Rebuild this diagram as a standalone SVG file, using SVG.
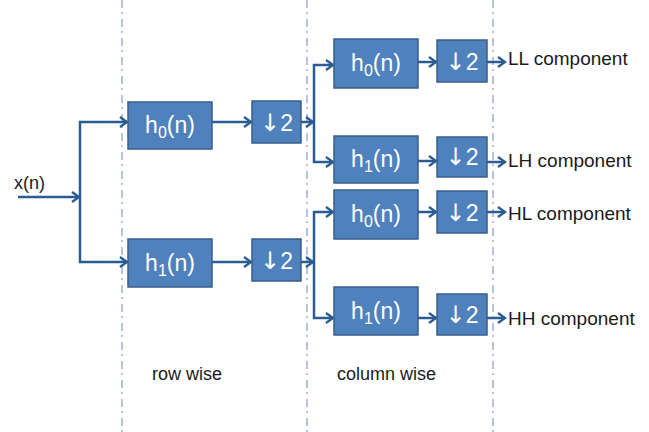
<svg xmlns="http://www.w3.org/2000/svg" width="649" height="432" viewBox="0 0 649 432">
<style>
.box{fill:#4F81BD;stroke:#385D8A;stroke-width:1.5}
.bt{font-family:"Liberation Sans",Arial,sans-serif;font-size:23px;fill:#FFFFFF;text-anchor:middle}
.sub{font-size:16px}
.arr{font-family:"DejaVu Sans",sans-serif;font-size:24px}
.lbl{font-family:"Liberation Sans",Arial,sans-serif;font-size:18px;fill:#1a1a1a}
.out{font-size:19px}
.con{fill:none;stroke:#2A5B92;stroke-width:2.5}
.sep{stroke:#9DB1CB;stroke-width:1.5;stroke-dasharray:8 4 2 5}
</style>
<defs>
<marker id="ah" markerWidth="10" markerHeight="12" refX="8" refY="6" orient="auto" markerUnits="userSpaceOnUse">
<path d="M1,1 L8,6 L1,11" fill="none" stroke="#2A5B92" stroke-width="2.3"/>
</marker>
</defs>
<rect width="649" height="432" fill="#FFFFFF"/>
<g id="separators">
<line class="sep" x1="122" y1="0" x2="122" y2="432"/>
<line class="sep" x1="307" y1="0" x2="307" y2="432"/>
<line class="sep" x1="493" y1="0" x2="493" y2="432"/>
</g>
<g id="connectors">
<line class="con" x1="18" y1="197" x2="79" y2="197" marker-end="url(#ah)"/>
<line class="con" x1="80" y1="121" x2="80" y2="263"/>
<line class="con" x1="79" y1="122" x2="127" y2="122" marker-end="url(#ah)"/>
<line class="con" x1="79" y1="262" x2="127" y2="262" marker-end="url(#ah)"/>
<line class="con" x1="212" y1="122" x2="251" y2="122" marker-end="url(#ah)"/>
<line class="con" x1="212" y1="262" x2="251" y2="262" marker-end="url(#ah)"/>
<line class="con" x1="301" y1="122" x2="313" y2="122" marker-end="url(#ah)"/>
<line class="con" x1="301" y1="262" x2="313" y2="262" marker-end="url(#ah)"/>
<line class="con" x1="314" y1="64" x2="314" y2="163"/>
<line class="con" x1="314" y1="211" x2="314" y2="319"/>
<line class="con" x1="313" y1="65" x2="333" y2="65" marker-end="url(#ah)"/>
<line class="con" x1="313" y1="162" x2="333" y2="162" marker-end="url(#ah)"/>
<line class="con" x1="313" y1="212" x2="333" y2="212" marker-end="url(#ah)"/>
<line class="con" x1="313" y1="318" x2="333" y2="318" marker-end="url(#ah)"/>
<line class="con" x1="418" y1="62" x2="436" y2="62" marker-end="url(#ah)"/>
<line class="con" x1="418" y1="161" x2="436" y2="161" marker-end="url(#ah)"/>
<line class="con" x1="418" y1="212" x2="436" y2="212" marker-end="url(#ah)"/>
<line class="con" x1="418" y1="318" x2="436" y2="318" marker-end="url(#ah)"/>
<line class="con" x1="487" y1="62" x2="505" y2="62" marker-end="url(#ah)"/>
<line class="con" x1="487" y1="162" x2="505" y2="162" marker-end="url(#ah)"/>
<line class="con" x1="487" y1="212" x2="505" y2="212" marker-end="url(#ah)"/>
<line class="con" x1="487" y1="318" x2="505" y2="318" marker-end="url(#ah)"/>
</g>
<g id="input-label"><text class="lbl" x="14" y="189">x(n)</text></g>
<g id="row-h0"><rect class="box" x="128" y="102" width="84" height="47"/><text class="bt" x="170" y="133">h<tspan class="sub" dy="5">0</tspan><tspan dy="-5">(n)</tspan></text></g>
<g id="row-d0"><rect class="box" x="252" y="101" width="49" height="42"/><text class="bt" x="276.5" y="131"><tspan class="arr">↓</tspan>2</text></g>
<g id="row-h1"><rect class="box" x="128" y="239" width="84" height="48"/><text class="bt" x="170" y="271">h<tspan class="sub" dy="5">1</tspan><tspan dy="-5">(n)</tspan></text></g>
<g id="row-d1"><rect class="box" x="252" y="239" width="49" height="42"/><text class="bt" x="276.5" y="269"><tspan class="arr">↓</tspan>2</text></g>
<g id="col-ll-h"><rect class="box" x="334" y="39" width="84" height="49"/><text class="bt" x="376" y="71">h<tspan class="sub" dy="5">0</tspan><tspan dy="-5">(n)</tspan></text></g>
<g id="col-ll-d"><rect class="box" x="437" y="40" width="50" height="42"/><text class="bt" x="462" y="70"><tspan class="arr">↓</tspan>2</text></g>
<g id="col-lh-h"><rect class="box" x="334" y="136" width="84" height="47"/><text class="bt" x="376" y="167">h<tspan class="sub" dy="5">1</tspan><tspan dy="-5">(n)</tspan></text></g>
<g id="col-lh-d"><rect class="box" x="437" y="137" width="50" height="40"/><text class="bt" x="462" y="165"><tspan class="arr">↓</tspan>2</text></g>
<g id="col-hl-h"><rect class="box" x="334" y="190" width="84" height="49"/><text class="bt" x="376" y="222">h<tspan class="sub" dy="5">0</tspan><tspan dy="-5">(n)</tspan></text></g>
<g id="col-hl-d"><rect class="box" x="437" y="191" width="50" height="42"/><text class="bt" x="462" y="221"><tspan class="arr">↓</tspan>2</text></g>
<g id="col-hh-h"><rect class="box" x="334" y="287" width="84" height="48"/><text class="bt" x="376" y="319">h<tspan class="sub" dy="5">1</tspan><tspan dy="-5">(n)</tspan></text></g>
<g id="col-hh-d"><rect class="box" x="437" y="294" width="50" height="41"/><text class="bt" x="462" y="323"><tspan class="arr">↓</tspan>2</text></g>
<g id="outputs">
<text class="lbl out" x="508" y="65">LL component</text>
<text class="lbl out" x="508" y="167">LH component</text>
<text class="lbl out" x="508" y="220">HL component</text>
<text class="lbl out" x="508" y="325">HH component</text>
</g>
<g id="stage-labels">
<text class="lbl" x="152" y="380">row wise</text>
<text class="lbl" x="337" y="380">column wise</text>
</g>
</svg>
